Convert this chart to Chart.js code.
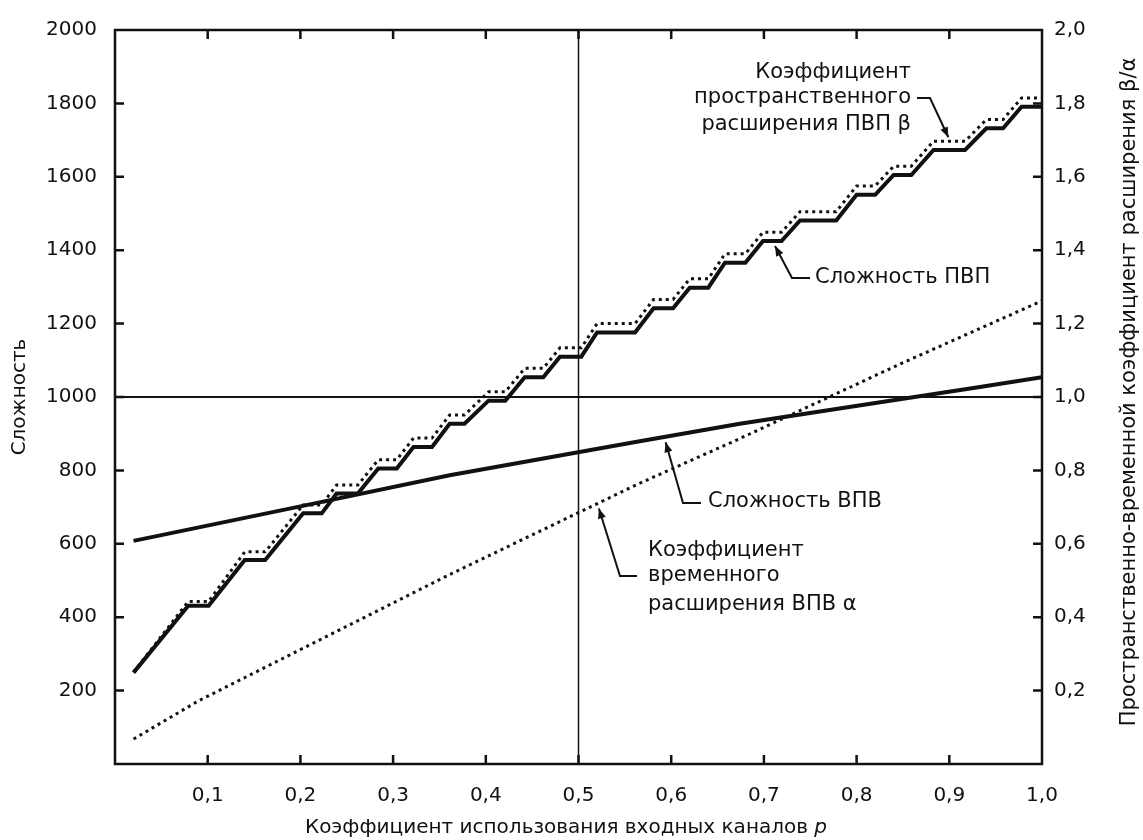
<!DOCTYPE html>
<html>
<head>
<meta charset="utf-8">
<script src="https://cdn.jsdelivr.net/npm/chart.js@4.4.0/dist/chart.umd.min.js"></script>
<style>
  html, body { margin: 0; padding: 0; background: #fff; }
  #wrap { width: 1143px; height: 840px; }
</style>
</head>
<body>
<div id="wrap"><canvas id="chart"></canvas></div>
<script>
// Staircase corners: input channel use p, complexity of the SMS switch, beta ratio
const pvpP = [0.02, 0.079, 0.101, 0.140, 0.162, 0.203, 0.223, 0.239, 0.262, 0.284, 0.304,
  0.322, 0.342, 0.361, 0.377, 0.403, 0.421, 0.442, 0.462, 0.480, 0.503, 0.520, 0.561,
  0.581, 0.602, 0.620, 0.640, 0.658, 0.680, 0.699, 0.719, 0.739, 0.778, 0.800, 0.820,
  0.840, 0.859, 0.883, 0.917, 0.940, 0.958, 0.978, 1.0];
const pvpComplexity = [249, 431, 431, 556, 556, 683, 683, 737, 737, 805, 805,
  864, 864, 927, 927, 990, 990, 1054, 1054, 1110, 1110, 1176, 1176,
  1242, 1242, 1298, 1298, 1366, 1366, 1425, 1425, 1481, 1481, 1551, 1551,
  1605, 1605, 1673, 1673, 1732, 1732, 1791, 1791];
const betaValues = [0.25, 0.443, 0.443, 0.578, 0.578, 0.706, 0.706, 0.760, 0.760, 0.829, 0.829,
  0.888, 0.888, 0.951, 0.951, 1.014, 1.014, 1.078, 1.078, 1.134, 1.134, 1.200, 1.200,
  1.266, 1.266, 1.322, 1.322, 1.390, 1.390, 1.449, 1.449, 1.505, 1.505, 1.575, 1.575,
  1.629, 1.629, 1.697, 1.697, 1.756, 1.756, 1.815, 1.815];

// smooth curves (read at a few points)
const vpvP = [0.02, 0.2, 0.361, 0.563, 0.674, 0.933, 1.0];
const vpvComplexity = [608, 702, 787, 878, 927, 1027, 1054];
const alphaP = [0.02, 0.09, 0.36, 0.566, 0.67, 0.847, 1.0];
const alphaValues = [0.068, 0.172, 0.515, 0.765, 0.882, 1.09, 1.262];

// reference lines
const refLevel = 1000;
const refP = 0.5;

// tick labels
const xTickLabels = ['', '0,1', '0,2', '0,3', '0,4', '0,5', '0,6', '0,7', '0,8', '0,9', '1,0'];
const yTickLabels = ['', '200', '400', '600', '800', '1000', '1200', '1400', '1600', '1800', '2000'];
const y2TickLabels = ['', '0,2', '0,4', '0,6', '0,8', '1,0', '1,2', '1,4', '1,6', '1,8', '2,0'];

const pts = (xs, ys) => xs.map((x, i) => ({ x: x, y: ys[i] }));

const INK = '#111';
const FONT = '"DejaVu Sans", "Liberation Sans", Arial, sans-serif';

Chart.defaults.font.family = FONT;
Chart.defaults.font.size = 20;
Chart.defaults.color = INK;

function arrow(ctx, path) {
  ctx.beginPath();
  ctx.moveTo(path[0][0], path[0][1]);
  for (let i = 1; i < path.length; i++) ctx.lineTo(path[i][0], path[i][1]);
  ctx.stroke();
  const [tx, ty] = path[path.length - 1];
  const [fx, fy] = path[path.length - 2];
  const a = Math.atan2(ty - fy, tx - fx);
  const L = 10, W = 4;
  ctx.beginPath();
  ctx.moveTo(tx, ty);
  ctx.lineTo(tx - L * Math.cos(a) + W * Math.sin(a), ty - L * Math.sin(a) - W * Math.cos(a));
  ctx.lineTo(tx - L * Math.cos(a) - W * Math.sin(a), ty - L * Math.sin(a) + W * Math.cos(a));
  ctx.closePath();
  ctx.fill();
}

const decor = {
  id: 'decor',
  afterDatasetsDraw(chart) {
    const ctx = chart.ctx;
    const a = chart.chartArea;
    const sx = chart.scales.x, sy = chart.scales.y, sy2 = chart.scales.y2;
    ctx.save();
    ctx.strokeStyle = INK;
    ctx.fillStyle = INK;

    // frame
    ctx.lineWidth = 2.5;
    ctx.strokeRect(a.left, a.top, a.right - a.left, a.bottom - a.top);

    // inward ticks
    ctx.beginPath();
    sx.ticks.forEach(t => {
      if (t.value <= 0 || t.value >= 1) return;
      const px = sx.getPixelForValue(t.value);
      ctx.moveTo(px, a.bottom); ctx.lineTo(px, a.bottom - 9);
      ctx.moveTo(px, a.top); ctx.lineTo(px, a.top + 9);
    });
    sy.ticks.forEach(t => {
      if (t.value <= 0 || t.value >= 2000) return;
      const py = sy.getPixelForValue(t.value);
      ctx.moveTo(a.left, py); ctx.lineTo(a.left + 9, py);
    });
    sy2.ticks.forEach(t => {
      if (t.value <= 0 || t.value >= 2) return;
      const py = sy2.getPixelForValue(t.value);
      ctx.moveTo(a.right, py); ctx.lineTo(a.right - 9, py);
    });
    ctx.stroke();

    // annotations
    ctx.font = '21px ' + FONT;
    ctx.textBaseline = 'middle';
    ctx.textAlign = 'right';
    ctx.fillText('Коэффициент', 911, 73);
    ctx.fillText('пространственного', 911, 98);
    ctx.fillText('расширения ПВП β', 911, 125);
    ctx.textAlign = 'left';
    ctx.fillText('Сложность ПВП', 815, 278);
    ctx.fillText('Сложность ВПВ', 708, 502);
    ctx.fillText('Коэффициент', 648, 551);
    ctx.fillText('временного', 648, 576);
    ctx.fillText('расширения ВПВ α', 648, 605);

    ctx.lineWidth = 2;
    const bx = sx.getPixelForValue(0.899), by = sy2.getPixelForValue(1.697) - 4;
    arrow(ctx, [[917, 98], [930, 98], [bx, by]]);
    const px1 = sx.getPixelForValue(0.712), py1 = sy.getPixelForValue(1425) + 5;
    arrow(ctx, [[810, 278], [792, 278], [px1, py1]]);
    const vx = sx.getPixelForValue(0.594), vy = sy.getPixelForValue(893) + 6;
    arrow(ctx, [[701, 503], [683, 503], [vx, vy]]);
    const ax = sx.getPixelForValue(0.522), ay = sy2.getPixelForValue(0.71) + 5;
    arrow(ctx, [[637, 576], [620, 576], [ax, ay]]);

    // axis titles
    ctx.font = '20px ' + FONT;
    ctx.textAlign = 'center';
    ctx.save();
    ctx.translate(20, (a.top + a.bottom) / 2);
    ctx.rotate(-Math.PI / 2);
    ctx.fillText('Сложность', 0, 0);
    ctx.restore();

    ctx.font = '21px ' + FONT;
    ctx.save();
    ctx.translate(1130, 392);
    ctx.rotate(-Math.PI / 2);
    ctx.fillText('Пространственно-временной коэффициент расширения β/α', 0, 0);
    ctx.restore();

    const main = 'Коэффициент использования входных каналов ';
    ctx.font = '20px ' + FONT;
    const w1 = ctx.measureText(main).width;
    ctx.font = 'italic 20px ' + FONT;
    const w2 = ctx.measureText('p').width;
    const x0 = 566 - (w1 + w2) / 2;
    ctx.textAlign = 'left';
    ctx.font = '20px ' + FONT;
    ctx.fillText(main, x0, 828);
    ctx.font = 'italic 20px ' + FONT;
    ctx.fillText('p', x0 + w1, 828);

    ctx.restore();
  }
};

const ctx = document.getElementById('chart').getContext('2d');
new Chart(ctx, {
  type: 'line',
  data: {
    datasets: [
      { data: pts([0, 1], [refLevel, refLevel]), yAxisID: 'y', borderWidth: 2 },
      { data: pts([refP, refP], [0, 2000]), yAxisID: 'y', borderWidth: 1.5 },
      { data: pts(vpvP, vpvComplexity), yAxisID: 'y', borderWidth: 4 },
      { data: pts(alphaP, alphaValues), yAxisID: 'y2', borderWidth: 3, borderDash: [3, 4] },
      { data: pts(pvpP, betaValues), yAxisID: 'y2', borderWidth: 3, borderDash: [3, 4] },
      { data: pts(pvpP, pvpComplexity), yAxisID: 'y', borderWidth: 4 }
    ].map(d => Object.assign({ borderColor: INK, pointRadius: 0, tension: 0, fill: false, borderCapStyle: 'butt' }, d))
  },
  options: {
    responsive: true,
    maintainAspectRatio: false,
    animation: false,
    layout: { padding: { top: 29, left: 0, right: 0, bottom: 0 } },
    plugins: { legend: { display: false }, tooltip: { enabled: false } },
    scales: {
      x: {
        type: 'linear', min: 0, max: 1, position: 'bottom',
        grid: { display: false, drawTicks: false },
        border: { display: false },
        ticks: { stepSize: 0.1, padding: 20, maxRotation: 0, autoSkip: false,
          callback: (v, i) => xTickLabels[i] },
        afterFit: s => { s.height = 76; }
      },
      y: {
        type: 'linear', min: 0, max: 2000, position: 'left',
        grid: { display: false, drawTicks: false },
        border: { display: false },
        ticks: { stepSize: 200, padding: 18, autoSkip: false, callback: (v, i) => yTickLabels[i] },
        afterFit: s => { s.width = 115; }
      },
      y2: {
        type: 'linear', min: 0, max: 2, position: 'right',
        grid: { display: false, drawTicks: false },
        border: { display: false },
        ticks: { stepSize: 0.2, padding: 12, autoSkip: false, callback: (v, i) => y2TickLabels[i] },
        afterFit: s => { s.width = 101; }
      }
    }
  },
  plugins: [decor]
});
</script>
</body>
</html>
